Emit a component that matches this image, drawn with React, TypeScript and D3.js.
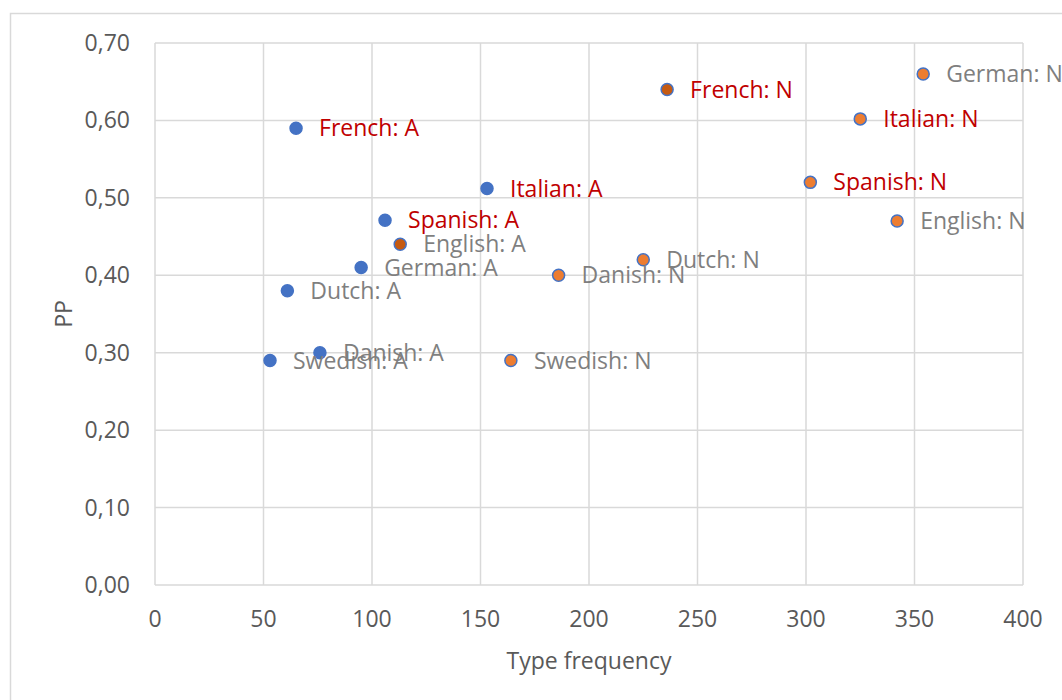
import React from 'react';
import * as d3 from 'd3';

const languages = ['French', 'Italian', 'Spanish', 'English', 'German', 'Dutch', 'Danish', 'Swedish'];
const adjFreq = [65, 153, 106, 113, 95, 61, 76, 53];
const adjPP = [0.59, 0.512, 0.471, 0.44, 0.41, 0.38, 0.3, 0.29];
const nounFreq = [236, 325, 302, 342, 354, 225, 186, 164];
const nounPP = [0.64, 0.602, 0.52, 0.47, 0.66, 0.42, 0.4, 0.29];
const redLanguages = ['French', 'Italian', 'Spanish'];
const xTicks = [0, 50, 100, 150, 200, 250, 300, 350, 400];
const yTicks = [0, 0.1, 0.2, 0.3, 0.4, 0.5, 0.6, 0.7];

const W = 1062;
const H = 700;
const margin = { top: 43, right: 39, bottom: 115, left: 155 };
const FONT = '"Open Sans", sans-serif';
const FS = 23;

function App() {
  const x = d3.scaleLinear().domain([0, 400]).range([margin.left, W - margin.right]);
  const y = d3.scaleLinear().domain([0, 0.7]).range([H - margin.bottom, margin.top]);
  const fmt = (v: number) => d3.format('.2f')(v).replace('.', ',');

  const points = [
    ...languages.map((lang, i) => ({
      label: `${lang}: A`, lang, fx: adjFreq[i], pp: adjPP[i],
      fill: lang === 'English' ? '#C55A11' : '#4472C4',
    })),
    ...languages.map((lang, i) => ({
      label: `${lang}: N`, lang, fx: nounFreq[i], pp: nounPP[i],
      fill: lang === 'French' ? '#C55A11' : '#ED7D31',
    })),
  ];

  return (
    <div style={{ position: 'fixed', left: 0, top: 0, width: W, height: H, background: '#fff' }}>
      <svg width={W} height={H} style={{ display: 'block' }}>
        <rect x={10.5} y={13.5} width={W + 10} height={H + 10} fill="#fff" stroke="#d9d9d9" strokeWidth={1.5} />
        {xTicks.map((t) => (
          <line key={`gx${t}`} x1={x(t)} x2={x(t)} y1={y(0)} y2={y(0.7)} stroke="#d9d9d9" strokeWidth={1.5} />
        ))}
        {yTicks.map((t) => (
          <line key={`gy${t}`} x1={x(0)} x2={x(400)} y1={y(t)} y2={y(t)} stroke="#d9d9d9" strokeWidth={1.5} />
        ))}
        {yTicks.map((t) => (
          <text key={`ty${t}`} x={x(0) - 25} y={y(t)} dy="0.35em" textAnchor="end" fontFamily={FONT} fontSize={FS} fill="#595959">
            {fmt(t)}
          </text>
        ))}
        {xTicks.map((t) => (
          <text key={`tx${t}`} x={x(t)} y={y(0) + 34} dy="0.35em" textAnchor="middle" fontFamily={FONT} fontSize={FS} fill="#595959">
            {t}
          </text>
        ))}
        <text x={(x(0) + x(400)) / 2} y={661} dy="0.35em" textAnchor="middle" fontFamily={FONT} fontSize={FS} fill="#595959">
          Type frequency
        </text>
        <text transform={`translate(64,${(y(0) + y(0.7)) / 2}) rotate(-90)`} dy="0.35em" textAnchor="middle" fontFamily={FONT} fontSize={FS} fill="#595959">
          PP
        </text>
        {points.map((p) => (
          <circle key={`c${p.label}`} cx={x(p.fx)} cy={y(p.pp)} r={6} fill={p.fill} stroke="#4472C4" strokeWidth={1.5} />
        ))}
        {points.map((p) => (
          <text key={`l${p.label}`} x={x(p.fx) + 23} y={y(p.pp)} dy="0.35em" fontFamily={FONT} fontSize={FS}
            fill={redLanguages.includes(p.lang) ? '#C00000' : '#7F7F7F'}>
            {p.label}
          </text>
        ))}
      </svg>
    </div>
  );
}

export default App;
